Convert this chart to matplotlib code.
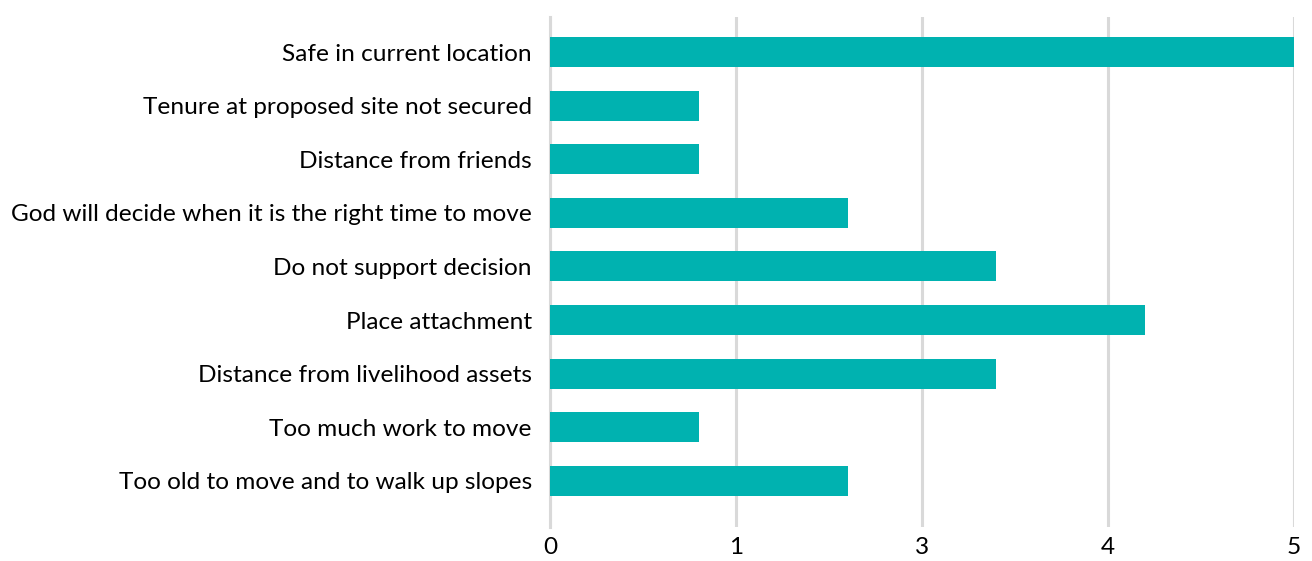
import matplotlib
matplotlib.use("Agg")
import matplotlib.pyplot as plt

categories = [
    "Safe in current location",
    "Tenure at proposed site not secured",
    "Distance from friends",
    "God will decide when it is the right time to move",
    "Do not support decision",
    "Place attachment",
    "Distance from livelihood assets",
    "Too much work to move",
    "Too old to move and to walk up slopes",
]
values = [5, 1, 1, 2, 3, 4, 3, 1, 2]
tick_positions = [0, 1.25, 2.5, 3.75, 5]
tick_labels = ["0", "1", "3", "4", "5"]

W, H = 1312, 561
fig = plt.figure(figsize=(W / 100, H / 100), dpi=100)
ax_top, ax_bot = 17, 527
ax = fig.add_axes([550 / W, 1 - ax_bot / H, (1294 - 550) / W, (ax_bot - ax_top) / H])

color = "#00B2B0"
ypos = list(range(len(categories)))
ax.barh(ypos, values, height=0.56, color=color, zorder=3)

spacing = 53.6
ax.set_ylim((ax_bot - 52) / spacing, (ax_top - 52) / spacing)
ax.set_xlim(0, 5)
fam = ["Lato", "DejaVu Sans"]
ax.set_yticks(ypos)
ax.set_yticklabels(categories, fontsize=17.6, family=fam)
ax.set_xticks(tick_positions)
ax.set_xticklabels(tick_labels, fontsize=17.6, family=fam)
ax.tick_params(axis="y", length=0, pad=13)
ax.tick_params(axis="x", length=0, pad=7)

ax.grid(axis="x", color="#d9d9d9", linewidth=2.2, zorder=0)
for s in ["top", "right", "bottom"]:
    ax.spines[s].set_visible(False)
ax.spines["left"].set_color("#d9d9d9")
ax.spines["left"].set_linewidth(2.2)
ax.spines["left"].set_zorder(1)

fig.savefig("out.png", dpi=100)
